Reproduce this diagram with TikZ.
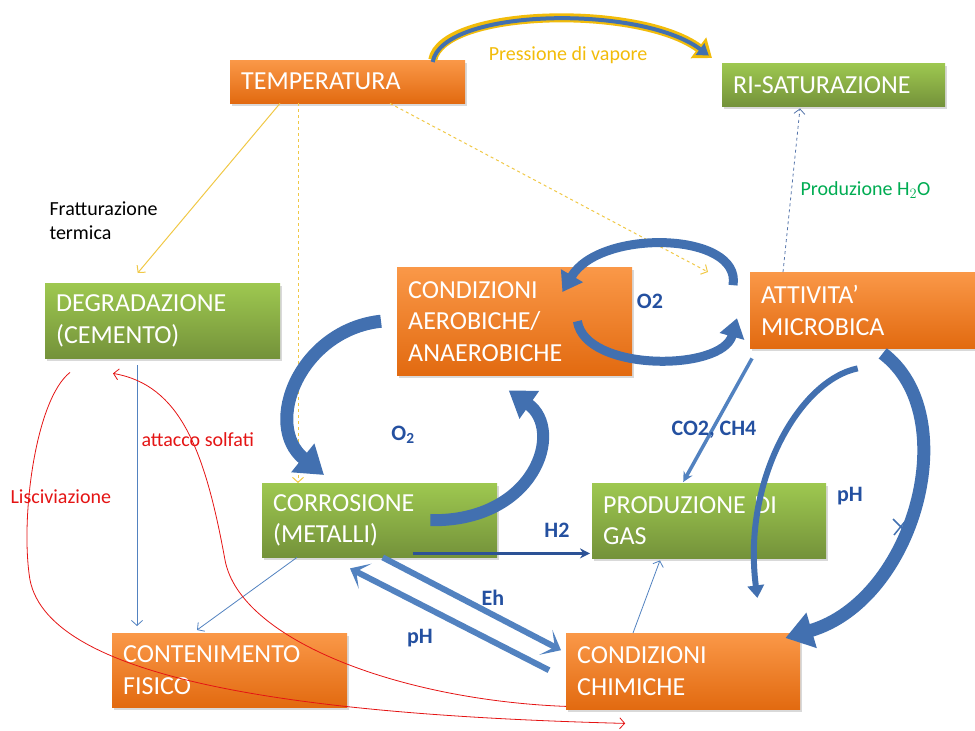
\documentclass[tikz,border=0pt]{standalone}
\usepackage{fontspec}
\setmainfont{Carlito}
\usetikzlibrary{arrows.meta,shadows}

\definecolor{orangetop}{RGB}{250,152,72}
\definecolor{orangebot}{RGB}{226,106,16}
\definecolor{greentop}{RGB}{158,200,80}
\definecolor{greenbot}{RGB}{116,146,58}
\definecolor{blockblue}{RGB}{66,112,176}
\definecolor{darkblue}{RGB}{44,82,150}
\definecolor{labelblue}{RGB}{36,80,160}
\definecolor{thinblue}{RGB}{82,130,192}
\definecolor{vapour}{RGB}{242,188,10}
\definecolor{thinyellow}{RGB}{240,200,70}
\definecolor{leachred}{RGB}{228,20,20}
\definecolor{watergreen}{RGB}{0,172,82}

\begin{document}
\begin{tikzpicture}[x=1pt,y=-1pt,>={Straight Barb[length=5pt,width=11pt]},
                    box/.style={rectangle,anchor=north west,inner xsep=11pt,inner ysep=0pt,
                      text=white,align=left,font=\fontsize{26}{31.5}\selectfont,
                      drop shadow={shadow xshift=2pt,shadow yshift=-3pt,opacity=.3}},
                    orangebox/.style={box,top color=orangetop,bottom color=orangebot},
                    greenbox/.style={box,top color=greentop,bottom color=greenbot},
                    label/.style={font=\fontsize{20}{24}\selectfont},
                    flow/.style={labelblue,font=\fontsize{22}{26}\selectfont\bfseries},
                    block/.style={draw=blockblue,line width=#1,
                      -{Triangle[length=0pt 2.1,width=0pt 2.7]}},
                    wide/.style={thinblue,line width=6pt,-{Stealth[length=17pt,width=28pt,inset=10pt]}}]
\useasboundingbox (0,0) rectangle (975,731);

\node[orangebox,text width=213pt,minimum height=43pt] (temp)  at (230,60)  {TEMPERATURA};
\node[greenbox,text width=201pt,minimum height=43pt]  (risat) at (722,63)  {RI-SATURAZIONE};
\node[greenbox,text width=213pt,minimum height=75pt]  (degr)  at (45,283)  {DEGRADAZIONE\\(CEMENTO)};
\node[orangebox,text width=213pt,minimum height=108pt] (aero) at (397,267) {CONDIZIONI\\AEROBICHE/\\ANAEROBICHE};
\node[orangebox,text width=203pt,minimum height=76pt] (micro) at (750,272) {ATTIVITA'\\MICROBICA};
\node[greenbox,text width=213pt,minimum height=74pt]  (corr)  at (262,483) {CORROSIONE\\(METALLI)};
\node[greenbox,text width=212pt,minimum height=75pt]  (gas)   at (592,483) {PRODUZIONE~DI\\GAS};
\node[orangebox,text width=213pt,minimum height=74pt] (cont)  at (112,633) {CONTENIMENTO\\FISICO};
\node[orangebox,text width=212pt,minimum height=76pt] (chim)  at (566,633) {CONDIZIONI\\CHIMICHE};

% temperatura
\draw[vapour,line width=9pt,-{Triangle[length=17pt,width=25pt]}]
  ([xshift=85pt]temp.north) .. controls (442,8) and (640,4) .. ([xshift=-10pt,yshift=5pt]risat.north west);
\draw[blockblue,line width=4pt,-{Triangle[length=11pt,width=14pt]},shorten >=4pt]
  ([xshift=85pt,yshift=-2pt]temp.north) .. controls (442,8) and (640,4) .. ([xshift=-10pt,yshift=5pt]risat.north west);
\node[label,vapour] (vap) at (568,55) {Pressione di vapore};

\draw[->,thinyellow,line width=1pt] ([xshift=50pt]temp.south west) -- ([xshift=-25pt,yshift=10pt]degr.north);
\draw[->,thinyellow,line width=1pt,dashed] ([xshift=68pt]temp.south west) -- ([xshift=36pt]corr.north west);
\draw[->,thinyellow,line width=1pt,dashed] ([xshift=160pt]temp.south west) -- ([xshift=-42pt]micro.north west);
\node[label,anchor=west,align=left] (frat) at (46,221) {Fratturazione\\termica};

\draw[->,darkblue!80,line width=.8pt,dashed] ([xshift=33pt]micro.north west) -- ([xshift=78pt,yshift=-2pt]risat.south west);
\node[label,watergreen,anchor=west] (h2o) at (797,190) {Produzione H$_2$O};

% grandi frecce
\draw[block=13pt] ([xshift=-16pt]aero.west) .. controls (300,330) and (262,425) .. ([xshift=62pt,yshift=8pt]corr.north west);
\draw[block=12pt] ([xshift=-67pt]corr.east) .. controls (535,522) and (565,430) .. ([xshift=-6pt,yshift=-15pt]aero.south);
\node[flow] (o2a) at (403,435) {O$_\mathbf{2}$};

\draw[block=9pt] ([xshift=-17pt,yshift=25pt]micro.west) .. controls (742,232) and (600,228) .. ([xshift=-70pt,yshift=-25pt]aero.north east);
\draw[block=9pt] ([xshift=-55pt]aero.east) .. controls (585,372) and (722,372) .. ([xshift=-13pt,yshift=-8pt]micro.west);
\node[flow] (o2b) at (650,301) {O2};

\draw[block=13pt] ([xshift=20pt,yshift=-5pt]micro.south) .. controls (965,415) and (915,600) .. ([xshift=-15pt,yshift=-5pt]chim.north east);
\draw[blockblue,line width=1.5pt] (893,519) -- (909,535) (894,535) -- (907,519);
\draw[block=6pt] ([xshift=-5pt,yshift=-20pt]micro.south) .. controls (800,380) and (742,480) .. ([xshift=-43pt,yshift=35pt]chim.north east);
\node[flow] (phc) at (850,496) {pH};

% frecce dirette
\draw[thinblue,line width=3.5pt,-{Stealth[length=10pt,width=10pt]}] ([xshift=2pt,yshift=-10pt]micro.south west) -- ([xshift=-26pt,yshift=1pt]gas.north);
\node[flow] (co2) at (714,430) {CO2, CH4};

\draw[darkblue,line width=3.5pt,-{Stealth[length=10pt,width=10pt]}] ([xshift=33pt,yshift=4pt]corr.south) -- ([xshift=-2pt,yshift=5pt]gas.south west);
\node[flow] (h2) at (557,530) {H2};

\draw[wide] ([xshift=3pt]corr.south) -- ([xshift=-5pt,yshift=21pt]chim.west);
\draw[wide] ([xshift=-17pt,yshift=1pt]chim.west) -- ([xshift=88pt,yshift=-11pt]corr.south west);
\node[flow] (eh) at (493,598) {Eh};
\node[flow] (pha) at (420,638) {pH};

\draw[->,thinblue,line width=.8pt] ([xshift=67pt]chim.north west) -- ([xshift=68pt,yshift=-2pt]gas.south west);
\draw[->,thinblue,line width=.8pt] ([xshift=35pt]corr.south west) -- ([xshift=85pt,yshift=3pt]cont.north west);
\draw[->,thinblue,line width=.8pt] ([xshift=92pt,yshift=-7pt]degr.south west) -- ([xshift=25pt,yshift=7pt]cont.north west);

% rosso
\draw[->,leachred,line width=.8pt] ([xshift=25pt,yshift=-14pt]degr.south west)
  .. controls (35,400) and (20,520) .. (30,580) .. controls (50,680) and (300,715) .. ([xshift=-58pt,yshift=-14pt]chim.south);
\node[label,leachred,anchor=west] (lisc) at (7,497) {Lisciviazione};
\draw[->,leachred,line width=.8pt] ([yshift=3pt]chim.south west)
  .. controls (400,700) and (240,640) .. (225,560) .. controls (205,450) and (180,385) .. ([xshift=68pt,yshift=-15pt]degr.south west);
\node[label,leachred,anchor=west] (solf) at (138,440) {attacco solfati};

\end{tikzpicture}
\end{document}
